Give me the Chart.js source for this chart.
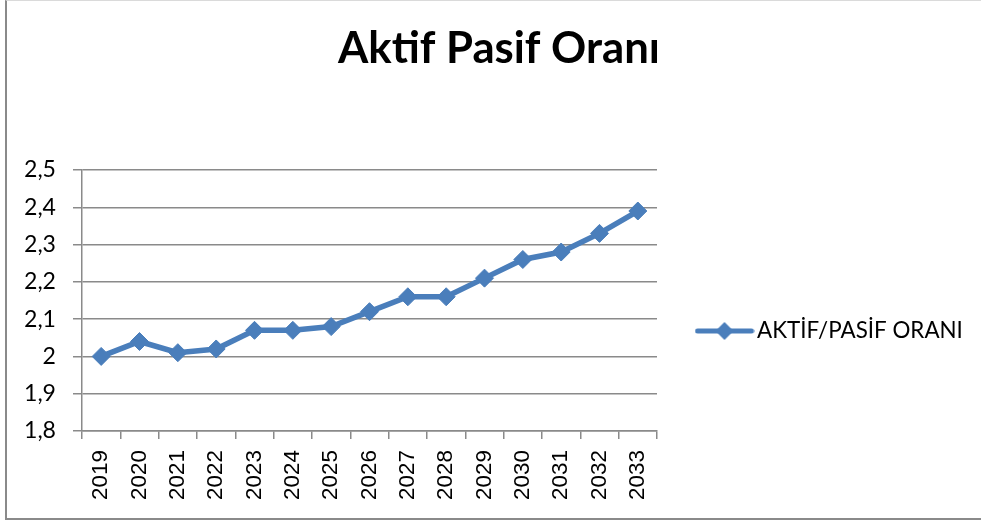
<!DOCTYPE html>
<html><head><meta charset="utf-8">
<script src="https://cdn.jsdelivr.net/npm/chart.js@4"></script>
<style>
html,body{margin:0;padding:0;background:#fff;}
#wrap{position:relative;width:981px;height:522px;overflow:hidden;}
#frame{position:absolute;left:5px;top:0;width:990px;height:517px;border-left:2px solid #8a8a8a;border-bottom:2px solid #8a8a8a;border-top:1px solid #dadada;}
canvas{position:absolute;left:0;top:0;}
</style></head><body>
<div id="wrap"><div id="frame"></div><canvas id="c" width="981" height="522"></canvas></div>
<script>
const chartTitle = 'Aktif Pasif Oranı';
const seriesName = 'AKTİF/PASİF ORANI';
const years = ['2019','2020','2021','2022','2023','2024','2025','2026','2027','2028','2029','2030','2031','2032','2033'];
const ratio = [2.00,2.04,2.01,2.02,2.07,2.07,2.08,2.12,2.16,2.16,2.21,2.26,2.28,2.33,2.39];
const yTickLabels = ['1,8','1,9','2','2,1','2,2','2,3','2,4','2,5'];

const BLUE = '#4A7EBB';
const GRID = '#8a8a8a';

// font sizes fitted to the reference text widths
const mctx = document.createElement('canvas').getContext('2d');
function fit(text, weight, family, target){
  mctx.font = weight + ' 100px ' + family;
  return 100 * target / mctx.measureText(text).width;
}
const titleSize = fit(chartTitle, 'bold', 'Lato', 322);
const legendSize = fit(seriesName, 'normal', 'Lato', 206);
const yTickSize = fit('2,5', 'normal', 'Lato', 32);
const xTickSize = fit('2019', 'normal', '"Liberation Sans"', 50);

// target geometry
const AREA_LEFT = 82, AREA_RIGHT = 657, AREA_TOP = 170, AREA_BOTTOM = 431;
const LEGEND_CY = 331;
const legBox = 65 - legendSize;          // pointStyleWidth
const legPad = 35 + legendSize / 2;      // labels padding
mctx.font = 'normal ' + legendSize + 'px Lato';
const legTextW = mctx.measureText(seriesName).width;
const legendWidth = legPad + legBox + legendSize / 2 + legTextW + 10;
const padR = 981 - AREA_RIGHT - legendWidth;
const padL = padR + 17;
const titleLH = titleSize * 1.2;
const titlePadTop = 49 - titleLH / 2;
const titlePadBottom = AREA_TOP - titlePadTop - titleLH;

// legend marker: line with diamond
const marker = document.createElement('canvas');
marker.width = 60; marker.height = 22;
(function(){
  const g = marker.getContext('2d');
  g.strokeStyle = BLUE; g.lineWidth = 5; g.lineCap = 'round';
  g.beginPath(); g.moveTo(3, 11); g.lineTo(57, 11); g.stroke();
  g.fillStyle = BLUE;
  g.beginPath(); g.moveTo(30, 2); g.lineTo(39, 11); g.lineTo(30, 20); g.lineTo(21, 11); g.closePath(); g.fill();
})();

const legendShift = {
  id: 'legendShift',
  afterLayout(chart){
    const l = chart.legend;
    if (!l) return;
    const h = l.bottom - l.top;
    l.top = LEGEND_CY - h / 2;
    l.bottom = l.top + h;
  }
};

new Chart(document.getElementById('c'), {
  type: 'line',
  data: {
    labels: years,
    datasets: [{
      label: seriesName,
      data: ratio,
      borderColor: BLUE,
      backgroundColor: BLUE,
      borderWidth: 5.5,
      tension: 0,
      pointStyle: 'rectRot',
      pointRadius: 9,
      pointHoverRadius: 9,
      pointBackgroundColor: BLUE,
      pointBorderColor: BLUE,
      pointBorderWidth: 1,
      clip: false
    }]
  },
  options: {
    responsive: false,
    animation: false,
    devicePixelRatio: 1,
    layout: { padding: { left: padL, right: padR, top: 0, bottom: 0 } },
    plugins: {
      title: {
        display: true,
        text: chartTitle,
        color: '#000',
        font: { family: 'Lato', weight: 'bold', size: titleSize, lineHeight: 1.2 },
        padding: { top: titlePadTop, bottom: titlePadBottom }
      },
      legend: {
        display: true,
        position: 'right',
        fullSize: false,
        align: 'center',
        maxWidth: 600,
        labels: {
          usePointStyle: true,
          pointStyle: marker,
          pointStyleWidth: legBox,
          padding: legPad,
          color: '#000',
          font: { family: 'Lato', size: legendSize }
        }
      },
      tooltip: { enabled: false }
    },
    scales: {
      x: {
        offset: true,
        ticks: {
          autoSkip: false, minRotation: 90, maxRotation: 90,
          color: '#000', padding: 11,
          font: { family: 'Liberation Sans', size: xTickSize }
        },
        grid: { offset: true, drawOnChartArea: false, drawTicks: true, tickLength: 8, color: GRID, lineWidth: 1.5 },
        border: { color: GRID, width: 1.5 },
        afterFit(s){ s.height = 522 - AREA_BOTTOM; }
      },
      y: {
        min: 1.8, max: 2.5,
        ticks: {
          stepSize: 0.1,
          color: '#000', padding: 17,
          font: { family: 'Lato', size: yTickSize },
          callback: (v) => yTickLabels[Math.round((v - 1.8) * 10)]
        },
        grid: { color: GRID, tickLength: 9, lineWidth: 1.5 },
        border: { color: GRID, width: 1.5 },
        afterFit(s){ s.width = AREA_LEFT - padL; }
      }
    }
  },
  plugins: [legendShift]
});
</script>
</body></html>
